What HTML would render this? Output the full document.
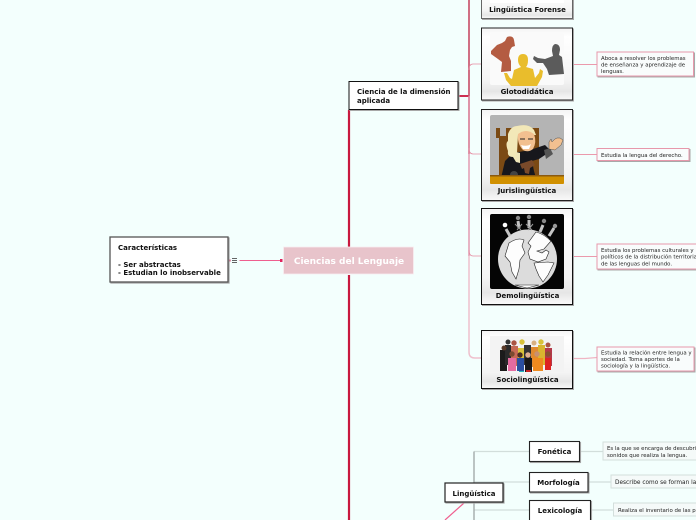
<!DOCTYPE html>
<html><head><meta charset="utf-8"><style>
html,body{margin:0;padding:0;background:#f3fffd;width:696px;height:520px;overflow:hidden}
svg{display:block;filter:blur(.3px)}
text{font-family:"DejaVu Sans",sans-serif}
.b{font-weight:bold;font-size:7px;fill:#111}
.n{font-size:5.4px;fill:#222}
.s{filter:drop-shadow(1px 1px 0 #a8a8a8)}
</style></head><body>
<svg width="696" height="520" viewBox="0 0 696 520" xmlns="http://www.w3.org/2000/svg">
<defs>
<linearGradient id="g" x1="0" y1="0" x2="0" y2="1"><stop offset="0" stop-color="#f4f4f4"/><stop offset=".12" stop-color="#fff"/><stop offset=".72" stop-color="#f4f4f4"/><stop offset=".88" stop-color="#e6e6e6"/><stop offset="1" stop-color="#fafafa"/></linearGradient>
</defs>
<rect width="696" height="520" fill="#f3fffd"/>
<!-- trunk -->
<path d="M349 110V247M349 275V520" stroke="#c8193f" stroke-width="2.2" fill="none"/>
<!-- branch spine -->
<path d="M458 96H469" stroke="#c8193f" stroke-width="1.8"/>
<path d="M469 0V96" stroke="#c9566f" stroke-width="1.7" fill="none"/>
<path d="M469 96V154" stroke="#d97a92" stroke-width="1.6" fill="none"/>
<path d="M469 154V256" stroke="#e39ab0" stroke-width="1.5" fill="none"/>
<path d="M469 256V352Q469 358 475 358H481" stroke="#efc0cd" stroke-width="1.5" fill="none"/>
<path d="M469 70Q469 64 473 64H481M469 148Q469 154 473 154H481M469 250Q469 256 473 256H481" stroke="#e58aa0" stroke-width=".8" fill="none"/>
<path d="M573 64.500H597M573 154.500H597M573 256.500H597" stroke="#eb9aac" stroke-width="1"/>
<path d="M573 358.500H585L597 357.500" stroke="#f0b5c3" stroke-width="1.200" fill="none"/>
<!-- left connector -->
<path d="M239.500 260.500H281" stroke="#ef5f8f" stroke-width="1"/>
<rect x="280" y="259" width="2.500" height="3" fill="#e0245e"/>
<rect x="228.500" y="259.500" width="2" height="2" fill="#e0245e"/>
<path d="M232 258.500H237M232 260.500H237M232 262.500H237" stroke="#333" stroke-width=".8"/>
<!-- root -->
<rect x="283.500" y="247" width="130" height="27" fill="#e8c4cb" stroke="#f8eef0" stroke-width=".8"/>
<text x="349" y="264" text-anchor="middle" font-size="9" font-weight="bold" fill="#fff">Ciencias del Lenguaje</text>
<!-- caracteristicas -->
<rect class="s" x="110" y="237" width="118" height="45" fill="#fff" stroke="#555" stroke-width="1.300"/>
<text class="b" x="118" y="250">Características</text><text class="b" x="118" y="267">- Ser abstractas</text><text class="b" x="118" y="275">- Estudian lo inobservable</text>
<!-- ciencia -->
<rect class="s" x="349" y="81.500" width="109" height="28" fill="#fff" stroke="#111" stroke-width="1"/>
<text class="b" x="357" y="94">Ciencia de la dimensión</text><text class="b" x="357" y="103">aplicada</text>
<!-- Forense -->
<rect class="s" x="481.500" y="-10" width="91" height="28.500" fill="url(#g)" stroke="#666" stroke-width="1"/>
<rect x="490" y="-10" width="74" height="13" fill="#fff"/>
<text class="b" x="527.500" y="12" text-anchor="middle">Lingüística Forense</text>
<!-- Glotodidactica -->
<rect class="s" x="481.500" y="28" width="91" height="72" fill="url(#g)" stroke="#222" stroke-width="1"/>
<rect x="490" y="33" width="74" height="52" rx="2" fill="#fafafa"/>
<path d="M507 37q6-2 7 3l1 6-3 1-2 3-1 6 2 5 0 10-10 1 1-10-4-3-7-5 0-3 6-6 5-2 3-2z" fill="#b45c42"/>
<path d="M555 44q5 0 5 6l-1 5 3 2 2 17-15 1-2-6-4-6-6 0-4-4 1-3 4 2 7 1 8-3-1-5q0-6 3-7z" fill="#5b5b5b"/>
<path d="M523 54q5 0 5 6 0 5-2 7l7 2 2 9 4-5 1-4 3 2-1 6-5 9h-26l-5-6-2-7 3 0 3 5 2 1 2-9 7-3q-3-3-3-7 0-6 5-6z" fill="#e9bd2c"/>
<text class="b" x="527" y="94" text-anchor="middle">Glotodidática</text>
<!-- Juris -->
<rect class="s" x="481.500" y="109.500" width="91" height="91" fill="url(#g)" stroke="#222" stroke-width="1"/>
<rect x="490" y="115" width="74" height="69" rx="2" fill="#b4b4b4"/>
<path d="M496 128h4v8h6v-8h33v48h-40v-38h-3z" fill="#7b4a14"/>
<path d="M501 178l4-17 8-8 17-3 15-5 6 6-12 8-7 2 2 10 2 7z" fill="#17171c"/>
<path d="M544 150l6-2 3 6-7 5z" fill="#555"/>
<circle cx="514" cy="175" r="4" fill="#444"/>
<rect x="490" y="176" width="74" height="8" rx="1" fill="#d19000"/>
<rect x="490" y="175" width="74" height="1.500" fill="#8b5a10"/>
<path d="M508 134q3-8 9-8 12-3 17 4l2 5-18 0-1 18 3 6-4 3-3-5q-6 0-5-6-3-8 0-10z" fill="#f2e8b8"/>
<path d="M518 134q8-6 16 0 3 8-1 15-5 4-10 1-6-6-5-16z" fill="#f2c090"/>
<path d="M521 145q6 2 10-1l-2 5h-6z" fill="#fff"/>
<path d="M520 139h5M528 139h5" stroke="#222" stroke-width="1"/>
<path d="M516 152l4 1v10l-4-1z" fill="#efe6bb"/>
<path d="M520 164l12-4 3 5-5 3-1 6-4-1-1-5-2 1z" fill="#7a4a2a"/>
<path d="M549 149l0-7 2-3 1 3 3-3 2-1 3 0 3 2-2 5-6 5z" fill="#f2c090" stroke="#333" stroke-width=".4"/>
<text class="b" x="527" y="193" text-anchor="middle">Jurislingüística</text>
<!-- Demo -->
<rect class="s" x="481.500" y="208.500" width="91" height="96" fill="url(#g)" stroke="#111" stroke-width="1"/>
<rect x="490" y="214" width="74" height="75" rx="2" fill="#050505"/>
<circle cx="527.500" cy="259" r="29.500" fill="#dcdcdc"/>
<path d="M509 243q9-6 15-3l-2 6 3 7-5 7-1 9-3 10-4-7-2-10-5-6zM536 232q8 2 15 9l-7 8-7 2 5 2 4-3 3 2-3 7-8 3-8-3-2-7 3-6-3-3zM534 263l14-1 6 1-6 12-5 7-4-6-3-7zM515 285h24l-12 3z" fill="#fdfdfd" stroke="#222" stroke-width=".6"/>
<path d="M506 229l4 7M518 221l1 7M529 220v8M543 225l-3 7M554 228l-5 8" stroke="#c4c4c4" stroke-width="3"/>
<path d="M515 224l6 6M522 224l-5 6M526 224l6 6M533 224l-5 6" stroke="#999" stroke-width="1"/>
<circle cx="505" cy="225" r="2.300" fill="#fff"/><circle cx="518" cy="218" r="2.200" fill="#888"/><circle cx="529" cy="217" r="2.200" fill="#888"/><circle cx="544" cy="221" r="2.200" fill="#888"/><circle cx="555" cy="226" r="2.200" fill="#999"/>
<text class="b" x="527.500" y="298" text-anchor="middle">Demolingüística</text>
<!-- Socio -->
<rect class="s" x="481.500" y="330.500" width="91" height="58" fill="url(#g)" stroke="#111" stroke-width="1"/>
<rect x="490" y="336" width="74" height="36" fill="#f3f3f3"/>
<g>
<rect x="500" y="350" width="7" height="21" fill="#1b1b1b"/><rect x="505" y="345" width="6" height="20" fill="#2a2a2a"/><rect x="511" y="346" width="7" height="20" fill="#c66a55"/><rect x="518" y="348" width="6" height="20" fill="#d8c23a"/><rect x="524" y="345" width="7" height="20" fill="#333"/><rect x="531" y="347" width="7" height="20" fill="#e08a30"/><rect x="538" y="345" width="7" height="20" fill="#d9b52f"/><rect x="545" y="348" width="7" height="18" fill="#b3394a"/>
<rect x="508" y="358" width="8" height="13" fill="#e46ca0"/><rect x="517" y="358" width="7" height="13" fill="#2b4fa0"/><rect x="525" y="358" width="7" height="14" fill="#181818"/><rect x="533" y="358" width="10" height="13" fill="#ef8a1e"/><rect x="545" y="358" width="6" height="12" fill="#d22"/>
<rect x="519" y="371" width="5" height="1" fill="#2bb"/><rect x="526" y="370" width="5" height="2" fill="#c22"/>
<circle cx="512" cy="354" r="2.700" fill="#7a4a30"/><circle cx="520" cy="355" r="2.700" fill="#4a2d20"/><circle cx="528" cy="355" r="2.700" fill="#e0b090"/><circle cx="537" cy="354" r="2.700" fill="#c89070"/><circle cx="548" cy="354" r="2.700" fill="#8a5030"/><circle cx="504" cy="348" r="2.500" fill="#5a3a28"/>
<circle cx="508" cy="342" r="2.500" fill="#333"/><circle cx="514" cy="343" r="2.700" fill="#a54"/><circle cx="522" cy="342" r="2.700" fill="#d8c23a"/><circle cx="534" cy="343" r="2.500" fill="#d8b080"/><circle cx="541" cy="342" r="2.700" fill="#d8c23a"/><circle cx="548" cy="345" r="2.500" fill="#a54"/>
</g>
<text class="b" x="527.500" y="382" text-anchor="middle">Sociolingüística</text>
<!-- notes -->
<g class="s" fill="#f9fcfc" stroke="#e798ab" stroke-width="1">
<rect x="597" y="52" width="96.500" height="24"/><rect x="597" y="148.500" width="92" height="12"/><rect x="597" y="244" width="104" height="25"/><rect x="597" y="347" width="97" height="24"/>
</g>
<text class="n" x="601" y="60">Aboca a resolver los problemas</text><text class="n" x="601" y="66.500">de enseñanza y aprendizaje de</text><text class="n" x="601" y="73">lenguas.</text>
<text class="n" x="601" y="157">Estudia la lengua del derecho.</text>
<text class="n" x="601" y="252">Estudia los problemas culturales y</text><text class="n" x="601" y="258.700">políticos de la distribución territorial</text><text class="n" x="601" y="265.400">de las lenguas del mundo.</text>
<text class="n" x="601" y="354.500">Estudia la relación entre lengua y</text><text class="n" x="601" y="361">sociedad. Toma aportes de la</text><text class="n" x="601" y="367.500">sociología y la lingüística.</text>
<!-- linguistica -->
<path d="M474 451.500H529M474 482H529M474 510H529M579 451.500H603M588 482H611M590 510H613" stroke="#d2dedb" stroke-width="1.300" fill="none"/>
<path d="M474 451.500V483M474 502V520" stroke="#a3abaa" stroke-width="1.400" fill="none"/>
<path d="M464 503L445 520" stroke="#ef5f8f" stroke-width="1.200"/>
<rect class="s" x="445" y="483" width="58" height="19" fill="#fff" stroke="#222" stroke-width="1.200"/>
<text class="b" x="474" y="496" text-anchor="middle">Lingüística</text>
<g class="s" fill="#fff" stroke="#222" stroke-width="1.100"><rect x="529.500" y="441.500" width="50" height="20"/><rect x="529.500" y="472.500" width="58.500" height="19.500"/><rect x="529.500" y="500.500" width="61" height="25"/></g>
<text class="b" x="554.500" y="454" text-anchor="middle">Fonética</text>
<text class="b" x="558.500" y="485" text-anchor="middle">Morfología</text>
<text class="b" x="560" y="513" text-anchor="middle">Lexicología</text>
<g fill="#f5faf9" stroke="#d3dfdc" stroke-width="1"><rect x="603" y="442" width="110" height="18"/><rect x="611" y="475" width="100" height="13"/><rect x="613.500" y="503" width="100" height="13"/></g>
<text class="n" x="607" y="450">Es la que se encarga de descubrir los</text><text class="n" x="607" y="457">sonidos que realiza la lengua.</text>
<text class="n" style="font-size:5.800px" x="615" y="484">Describe como se forman las palabras</text>
<text class="n" x="618" y="512">Realiza el inventario de las palabras</text>
</svg>
</body></html>
